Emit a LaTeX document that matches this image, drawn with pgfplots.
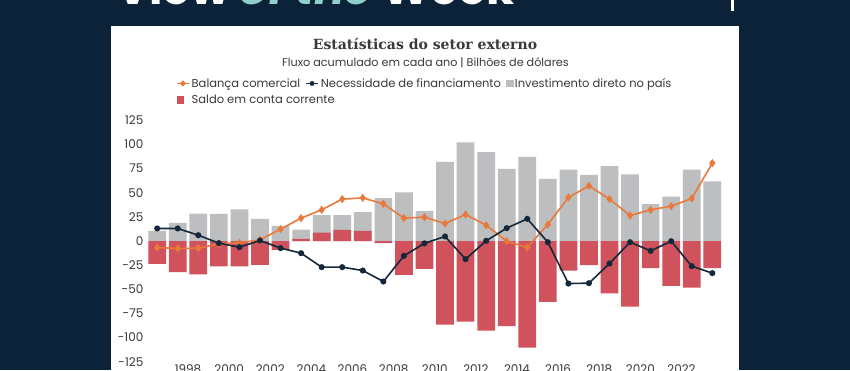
\documentclass[border=0pt]{standalone}
\usepackage{fontspec}
\setmainfont{Poppins}
\newfontfamily\titlefont{DejaVu Serif}
\usepackage{pgfplots}
\usepackage{pgfplotstable}
\pgfplotsset{compat=1.18}
\definecolor{bg}{HTML}{0B2238}
\definecolor{gryc}{HTML}{BDBEC0}
\definecolor{redc}{HTML}{CF525C}
\definecolor{orng}{HTML}{E9793A}
\definecolor{navy}{HTML}{15283B}
\definecolor{txt}{HTML}{3A3A3A}
\definecolor{tealc}{HTML}{8FCFCB}

\pgfplotstableread{
x ide cc bc nf
0 10.5 -23.7 -6.7 13.0
1 18.8 -32.3 -7.8 13.0
2 28.5 -34.7 -7.4 6.0
3 28.2 -26.4 -2.9 -2.2
4 32.7 -26.4 -1.9 -6.4
5 23.0 -24.7 1.2 0.5
6 15.7 -9.2 12.3 -7.4
7 11.9 2.2 23.7 -12.6
8 26.8 8.8 32.3 -27.1
9 26.8 11.5 43.4 -27.1
10 29.9 10.5 44.7 -30.6
11 44.4 -2.2 38.5 -42.0
12 50.3 -35.0 23.7 -15.4
13 31.3 -28.8 24.7 -2.4
14 82.1 -86.6 18.1 4.7
15 102.1 -83.5 27.5 -18.8
16 92.1 -92.8 16.4 0.2
17 74.8 -88.3 -0.2 13.3
18 87.2 -110.4 -6.7 23.0
19 64.5 -63.1 17.1 -1.2
20 74.1 -30.6 45.1 -44.1
21 68.6 -25.0 57.2 -43.7
22 77.6 -54.4 43.4 -23.3
23 69.0 -67.9 26.4 -1.2
24 38.2 -28.2 32.3 -10.2
25 46.1 -46.5 36.1 -0.2
26 74.1 -48.2 44.1 -26.1
27 61.7 -28.2 80.7 -33.3
}\data

\begin{document}
\begin{tikzpicture}
\useasboundingbox (0pt,0pt) rectangle (850pt,370pt);
\clip (0pt,0pt) rectangle (850pt,370pt);
\fill[bg] (0pt,0pt) rectangle (850pt,370pt);
\fill[white] (110.7pt,0pt) rectangle (739.3pt,344pt);
\fill[white] (731pt,359pt) rectangle (734pt,370pt);
\node[anchor=base west, text=white, font=\fontsize{45.5}{50}\selectfont\bfseries, inner sep=0pt] at (116pt,365pt) {View {\color{tealc}\itshape of the} Week};
\node[font=\titlefont\bfseries\fontsize{14}{16}\selectfont, text=txt] at (425pt,325.5pt) {Estatísticas do setor externo};
\node[font=\fontsize{11.2}{13}\selectfont, text=txt] at (425.5pt,307.5pt) {Fluxo acumulado em cada ano | Bilhões de dólares};
\begin{axis}[
  at={(146.9pt,8.4pt)}, anchor=south west,
  scale only axis, width=575.7pt, height=241.2pt,
  xmin=-0.5, xmax=27.5, ymin=-125, ymax=125,
  ytick={-125,-100,-75,-50,-25,0,25,50,75,100,125},
  xtick={1.5,3.5,5.5,7.5,9.5,11.5,13.5,15.5,17.5,19.5,21.5,23.5,25.5},
  xticklabels={1998,2000,2002,2004,2006,2008,2010,2012,2014,2016,2018,2020,2022},
  axis line style={draw=none}, major tick length=0pt,
  tick label style={font=\fontsize{12}{14}\selectfont, text=txt},
  /pgf/number format/assume math mode=true,
  /pgf/number format/1000 sep={},
  legend style={at={(0.0505,1.184)}, anchor=north west, draw=none, fill=none,
    font=\fontsize{11.5}{13}\selectfont, text=txt, inner sep=0pt,
    /tikz/every even column/.style={column sep=3pt},
    row sep=2pt},
  legend columns=3, legend cell align=left,
]
\addlegendimage{legend image code/.code={\draw[orng, line width=1.5pt] (0pt,0pt)--(12pt,0pt); \fill[orng] (6pt,2.8pt)--(8.8pt,0pt)--(6pt,-2.8pt)--(3.2pt,0pt)--cycle;}}
\addlegendentry{Balança comercial}
\addlegendimage{legend image code/.code={\draw[navy, line width=1.5pt] (0pt,0pt)--(12pt,0pt); \fill[navy] (6pt,0pt) circle (2.2pt);}}
\addlegendentry{Necessidade de financiamento}
\addlegendimage{legend image code/.code={\fill[gryc] (0pt,-3pt) rectangle (6.5pt,3.5pt);}}
\addlegendentry{Investimento direto no país}
\addlegendimage{legend image code/.code={\fill[redc] (0pt,-3pt) rectangle (6.5pt,3.5pt);}}
\addlegendentry{\makebox[0pt][l]{Saldo em conta corrente}}

\addplot[ybar, bar width=17.7pt, bar shift=0pt, fill=gryc, draw=none, forget plot] table[x=x,y=ide]{\data};
\addplot[ybar, bar width=17.7pt, bar shift=0pt, fill=redc, draw=none, forget plot] table[x=x,y=cc]{\data};
\addplot[orng, line width=1.6pt, mark=diamond*, mark size=2.8pt, forget plot] table[x=x,y=bc]{\data};
\addplot[navy, line width=1.6pt, mark=*, mark size=2.2pt, forget plot] table[x=x,y=nf]{\data};
\end{axis}
\end{tikzpicture}
\end{document}
